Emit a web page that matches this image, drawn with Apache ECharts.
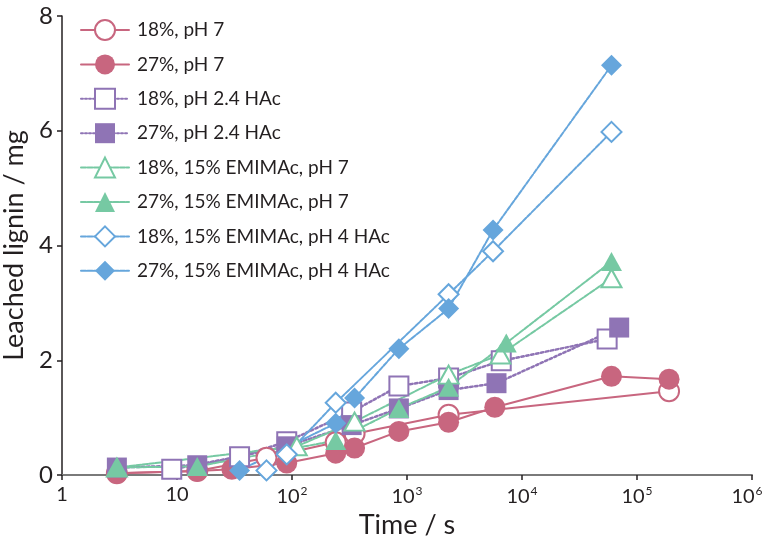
<!DOCTYPE html>
<html>
<head>
<meta charset="utf-8">
<script src="https://cdn.jsdelivr.net/npm/echarts@6/dist/echarts.min.js"></script>
<style>
  html, body { margin: 0; padding: 0; background: #fff; }
  #chart { width: 766px; height: 538px; }
</style>
</head>
<body>
<div id="chart"></div>
<script>
// Leached lignin (mg) versus time (s) for each leaching condition
const names = [
  '18%, pH 7',
  '27%, pH 7',
  '18%, pH 2.4 HAc',
  '27%, pH 2.4 HAc',
  '18%, 15% EMIMAc, pH 7',
  '27%, 15% EMIMAc, pH 7',
  '18%, 15% EMIMAc, pH 4 HAc',
  '27%, 15% EMIMAc, pH 4 HAc'
];

const time18pH7 = [3, 15, 60, 240, 350, 2300, 190000];
const lignin18pH7 = [0.03, 0.07, 0.30, 0.57, 0.72, 1.05, 1.46];

const time27pH7 = [3, 15, 30, 90, 240, 350, 850, 2300, 5800, 60000, 190000];
const lignin27pH7 = [0.03, 0.07, 0.10, 0.21, 0.38, 0.47, 0.76, 0.92, 1.18, 1.72, 1.67];

const time18HAc = [9, 35, 90, 330, 850, 2300, 6600, 55000];
const lignin18HAc = [0.10, 0.32, 0.58, 1.10, 1.55, 1.69, 1.99, 2.37];

const time27HAc = [3, 15, 90, 330, 850, 2300, 6000, 70000];
const lignin27HAc = [0.13, 0.17, 0.50, 0.87, 1.16, 1.48, 1.60, 2.57];

const time18EmimpH7 = [3, 110, 350, 2300, 6500, 60000];
const lignin18EmimpH7 = [0.13, 0.50, 0.93, 1.75, 2.10, 3.43];

const time27EmimpH7 = [3, 15, 240, 850, 2300, 7300, 60000];
const lignin27EmimpH7 = [0.13, 0.15, 0.60, 1.16, 1.53, 2.30, 3.72];

const time18EmimHAc = [60, 90, 240, 2300, 5600, 60000];
const lignin18EmimHAc = [0.08, 0.36, 1.26, 3.15, 3.90, 5.98];

const time27EmimHAc = [35, 240, 350, 850, 2300, 5600, 60000];
const lignin27EmimHAc = [0.08, 0.90, 1.34, 2.20, 2.90, 4.27, 7.14];

const xTicks = [1, 10, 100, 1000, 10000, 100000, 1000000];
const yTicks = [0, 2, 4, 6, 8];

const PINK = '#c8667f';
const PURPLE = '#8f74b5';
const GREEN = '#76c9a3';
const BLUE = '#66a6dc';
const FONT = 'Lato, "Liberation Sans", sans-serif';
const INK = '#231f20';

function pairs(xs, ys) { return xs.map((x, i) => [x, ys[i]]); }

function makeSeries(name, xs, ys, color, symbol, size, filled, dash, width) {
  return {
    name: name,
    type: 'line',
    data: pairs(xs, ys),
    symbol: symbol,
    symbolSize: size,
    showAllSymbol: true,
    lineStyle: { color: color, width: width, type: dash, cap: 'round' },
    itemStyle: {
      color: filled ? color : '#ffffff',
      borderColor: color,
      borderWidth: filled ? 0 : 2
    },
    emphasis: { disabled: true },
    animation: false
  };
}

const DASH = [5, 1.5];

const series = [
  makeSeries(names[0], time18pH7, lignin18pH7, PINK, 'circle', 20, false, 'solid', 2),
  makeSeries(names[1], time27pH7, lignin27pH7, PINK, 'circle', 21, true, 'solid', 2),
  makeSeries(names[2], time18HAc, lignin18HAc, PURPLE, 'rect', 19, false, 'dotted', 2.5),
  makeSeries(names[3], time27HAc, lignin27HAc, PURPLE, 'rect', 20, true, 'dotted', 2.5),
  makeSeries(names[4], time18EmimpH7, lignin18EmimpH7, GREEN, 'triangle', [20, 18], false, DASH, 2),
  makeSeries(names[5], time27EmimpH7, lignin27EmimpH7, GREEN, 'triangle', [21, 19], true, DASH, 2),
  makeSeries(names[6], time18EmimHAc, lignin18EmimHAc, BLUE, 'diamond', [20, 20], false, DASH, 2),
  makeSeries(names[7], time27EmimHAc, lignin27EmimHAc, BLUE, 'diamond', [21, 21], true, DASH, 2)
];

const supDigits = { 2: '2', 3: '3', 4: '4', 5: '5', 6: '6' };

const chart = echarts.init(document.getElementById('chart'), null, { renderer: 'canvas' });
chart.setOption({
  backgroundColor: '#ffffff',
  animation: false,
  textStyle: { fontFamily: FONT, color: INK },
  grid: { left: 62, right: 14, top: 16, bottom: 63, containLabel: false, outerBoundsMode: 'none' },
  legend: {
    orient: 'vertical',
    left: 75,
    top: 14,
    itemWidth: 48,
    itemHeight: 25,
    itemGap: 13.4,
    data: names,
    textStyle: { fontFamily: FONT, fontSize: 19, color: INK, padding: [0, 0, 0, 3] },
    selectedMode: false
  },
  xAxis: {
    type: 'log',
    logBase: 10,
    min: 1,
    max: 1000000,
    name: 'Time / s',
    nameLocation: 'middle',
    nameGap: 33,
    nameTextStyle: { fontFamily: FONT, fontSize: 27, color: INK },
    axisLine: { show: true, onZero: false, lineStyle: { color: '#7a7a7a', width: 2 } },
    axisTick: { show: true, inside: false, length: 5, lineStyle: { color: INK, width: 1.5 } },
    minorTick: { show: false },
    splitLine: { show: false },
    axisLabel: {
      margin: 10,
      fontFamily: FONT,
      fontSize: 20,
      color: INK,
      formatter: function (v) {
        const e = Math.round(Math.log10(v));
        if (e === 0) return '1';
        if (e === 1) return '10';
        // the last label is nudged left so its exponent stays inside the canvas
        return '{b|10}{' + (e === 6 ? 'sl' : 's') + '|' + supDigits[e] + '}';
      },
      rich: {
        b: { fontFamily: FONT, fontSize: 20, color: INK, lineHeight: 22, verticalAlign: 'bottom' },
        s: { fontFamily: FONT, fontSize: 12, color: INK, lineHeight: 22, verticalAlign: 'top', padding: [0, 0, 0, 1] },
        sl: { fontFamily: FONT, fontSize: 12, color: INK, lineHeight: 22, verticalAlign: 'top', padding: [0, 10, 0, 1] }
      }
    }
  },
  yAxis: {
    type: 'value',
    min: 0,
    max: 8,
    interval: 2,
    name: 'Leached lignin / mg',
    nameLocation: 'middle',
    nameGap: 27,
    nameTextStyle: { fontFamily: FONT, fontSize: 27, color: INK },
    axisLine: { show: true, lineStyle: { color: INK, width: 1.5 } },
    axisTick: { show: true, inside: false, length: 5, lineStyle: { color: INK, width: 1.5 } },
    splitLine: { show: false },
    axisLabel: { margin: 9, fontFamily: FONT, fontSize: 24, color: INK }
  },
  series: series
});
</script>
</body>
</html>
